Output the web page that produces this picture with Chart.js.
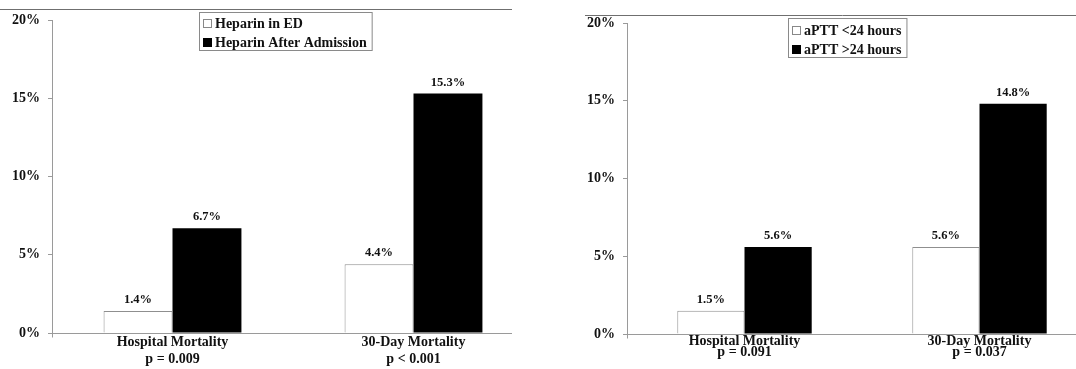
<!DOCTYPE html>
<html><head><meta charset="utf-8">
<script src="https://cdn.jsdelivr.net/npm/chart.js@4.4.1/dist/chart.umd.min.js"></script>
<style>
html,body{margin:0;padding:0;background:#fff;overflow:hidden;width:1076px;height:369px;position:relative;}
#w1{position:absolute;left:0;top:0;width:540px;height:369px;}
#w2{position:absolute;left:540px;top:0;width:560px;height:369px;}
</style></head><body>
<div id="w1"><canvas id="c1"></canvas></div>
<div id="w2"><canvas id="c2"></canvas></div>
<script>
// ---- data ----
const leftCategories = [["Hospital Mortality", "p = 0.009"], ["30-Day Mortality", "p < 0.001"]];
const leftSeriesLabels = ["Heparin in ED", "Heparin After Admission"];
const leftSeriesA = [1.4, 4.4];
const leftSeriesB = [6.7, 15.3];

const rightCategories = [["Hospital Mortality", "p = 0.091"], ["30-Day Mortality", "p = 0.037"]];
const rightSeriesLabels = ["aPTT <24 hours", "aPTT >24 hours"];
const rightSeriesA = [1.5, 5.6];
const rightSeriesB = [5.6, 14.8];

const yTickValues = [0, 5, 10, 15, 20];
const yTickSuffix = "%";

// ---- helpers ----
const FONT = "'Liberation Serif','Times New Roman',serif";
const AXIS_GRAY = "#9a9a9a";

const decorPlugin = {
  id: 'decor',
  afterDraw(chart, args, o) {
    const ctx = chart.ctx, ca = chart.chartArea;
    ctx.save();
    // top rule
    ctx.strokeStyle = '#6f6f6f'; ctx.lineWidth = 1;
    ctx.beginPath(); ctx.moveTo(o.topLine.x0, o.topLine.y); ctx.lineTo(o.topLine.x1, o.topLine.y); ctx.stroke();
    // x axis baseline
    const yb = Math.round(chart.scales.y.getPixelForValue(0)) + 0.5;
    ctx.strokeStyle = AXIS_GRAY;
    ctx.beginPath(); ctx.moveTo(ca.left - 4, yb); ctx.lineTo(o.axisEnd === null ? chart.width : o.axisEnd, yb); ctx.stroke();
    ctx.beginPath(); ctx.moveTo(ca.left + 0.5, yb); ctx.lineTo(ca.left + 0.5, yb + 4); ctx.stroke();
    // value labels
    ctx.fillStyle = '#111';
    ctx.font = 'bold 12.5px ' + FONT;
    ctx.textAlign = 'center'; ctx.textBaseline = 'middle';
    chart.data.datasets.forEach((ds, i) => {
      chart.getDatasetMeta(i).data.forEach((el, j) => {
        ctx.fillText(ds.data[j].toFixed(1) + '%', el.x, el.y - 11);
      });
    });
    // legend box
    const L = o.legend;
    ctx.font = 'bold 14px ' + FONT;
    ctx.textAlign = 'left';
    let tw = 0;
    chart.data.datasets.forEach(ds => { tw = Math.max(tw, ctx.measureText(ds.label).width); });
    const bw = L.textOffset + tw + 5;
    ctx.strokeStyle = '#8a8a8a'; ctx.lineWidth = 1;
    ctx.strokeRect(L.x + 0.5, L.y + 0.5, bw, L.h);
    chart.data.datasets.forEach((ds, i) => {
      const ry = L.y + L.row0 + i * L.rowGap;
      ctx.fillStyle = ds.backgroundColor;
      ctx.fillRect(L.x + 4, ry - 4, 9, 9);
      ctx.strokeStyle = i === 0 ? '#888' : '#000';
      ctx.strokeRect(L.x + 4.5, ry - 3.5, 8, 8);
      ctx.fillStyle = '#111';
      ctx.fillText(ds.label, L.x + L.textOffset, ry + 1);
    });
    ctx.restore();
  }
};

function makeChart(id, cats, labels, a, b, cfg) {
  return new Chart(document.getElementById(id), {
    type: 'bar',
    data: {
      labels: cats,
      datasets: [
        { label: labels[0], data: a, backgroundColor: '#ffffff', borderColor: '#8f8f8f', borderWidth: 1 },
        { label: labels[1], data: b, backgroundColor: '#000000', borderColor: '#000000', borderWidth: 0 }
      ]
    },
    options: {
      responsive: true, maintainAspectRatio: false, animation: false,
      layout: { padding: { top: cfg.top, right: cfg.right, left: 0, bottom: 0 } },
      datasets: { bar: { categoryPercentage: 0.572, barPercentage: 1.0 } },
      plugins: {
        legend: { display: false }, tooltip: { enabled: false },
        decor: { topLine: cfg.topLine, axisEnd: cfg.axisEnd, legend: cfg.legend }
      },
      scales: {
        x: {
          offset: true,
          grid: { display: false, drawTicks: false },
          border: { display: false },
          ticks: { color: '#111', padding: cfg.xPad, maxRotation: 0, autoSkip: false,
                   font: { family: FONT, size: 14, weight: 'bold', lineHeight: cfg.lh } },
          afterFit: s => { s.height = cfg.xHeight; }
        },
        y: {
          min: 0, max: 20,
          afterBuildTicks: s => { s.ticks = yTickValues.map(v => ({ value: v })); },
          grid: { drawOnChartArea: false, color: AXIS_GRAY, tickLength: 4 },
          border: { color: AXIS_GRAY, width: 1 },
          ticks: { color: '#111', padding: 8, callback: v => v + yTickSuffix,
                   font: { family: FONT, size: 14, weight: 'bold' } },
          afterFit: s => { s.width = cfg.yWidth; }
        }
      }
    },
    plugins: [decorPlugin]
  });
}

makeChart('c1', leftCategories, leftSeriesLabels, leftSeriesA, leftSeriesB, {
  top: 20, right: 6, yWidth: 52, xHeight: 36, xPad: 1, lh: '17px',
  topLine: { x0: 0, x1: 512, y: 9.5 }, axisEnd: 512,
  legend: { x: 199, y: 12, h: 38, row0: 11, rowGap: 19, textOffset: 16 }
});
makeChart('c2', rightCategories, rightSeriesLabels, rightSeriesA, rightSeriesB, {
  top: 23, right: 3, yWidth: 87, xHeight: 35, xPad: 2, lh: '11px',
  topLine: { x0: 45, x1: 560, y: 15.5 }, axisEnd: null,
  legend: { x: 248, y: 18, h: 39, row0: 12, rowGap: 19, textOffset: 16 }
});
</script>
</body></html>
